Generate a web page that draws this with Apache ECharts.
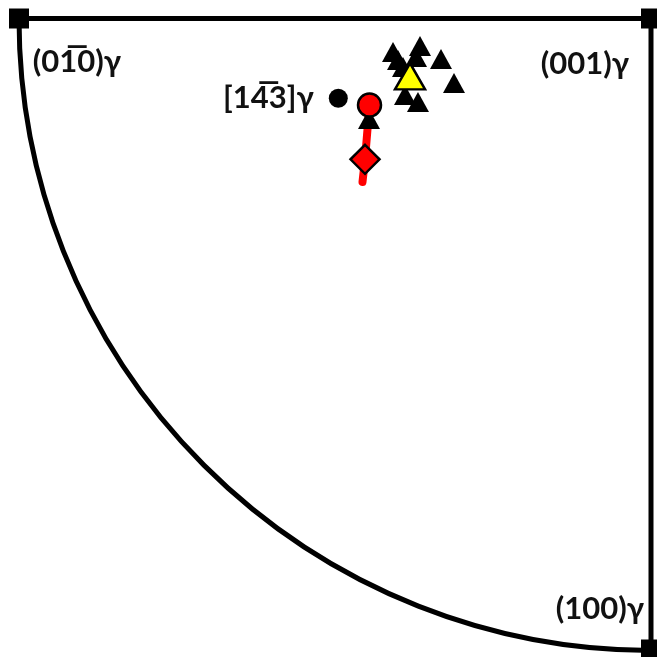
<!DOCTYPE html>
<html>
<head>
<meta charset="utf-8">
<script src="https://cdn.jsdelivr.net/npm/echarts@6/dist/echarts.min.js"></script>
<style>
  html, body { margin: 0; padding: 0; background: #fff; }
  #chart { width: 657px; height: 657px; }
</style>
</head>
<body>
<div id="chart"></div>
<script>
// Standard stereographic triangle: (001) pole at the origin, unit radius.
const poleNames = ['(01\u03050)\u03b3', '(001)\u03b3', '(100)\u03b3'];
const polePoints = [[-1, 0], [0, 0], [0, -1]];

// Reference direction
const refName = '[14\u03053]\u03b3';
const refPoint = [-0.4948, -0.1265];

// Measured variant orientations
const variantPoints = [
  [-0.4082, -0.0531], [-0.4003, -0.0658], [-0.3924, -0.0769],
  [-0.3655, -0.0436], [-0.3718, -0.0610], [-0.3323, -0.0642],
  [-0.3117, -0.1022], [-0.3892, -0.1212], [-0.3687, -0.1323],
  [-0.4462, -0.1593]
];
const meanVariant = [-0.3813, -0.0916];

// Rotation path: start, intermediate, end
const pathPoints = [[-0.4454, -0.1371], [-0.4525, -0.2231], [-0.4565, -0.2591]];
const startPoint = pathPoints[0];
const midPoint = pathPoints[1];

const FONT = 'Lato';
const labelOffsets = [[58, 43], [-66, 45], [-51, -41]];
const labelStyle = { fontFamily: FONT, fontWeight: 'bold', fontSize: 31, color: '#111' };

const chart = echarts.init(document.getElementById('chart'), null, { renderer: 'canvas' });

chart.setOption({
  animation: false,
  backgroundColor: '#ffffff',
  grid: { left: 19, right: 6, top: 18.5, bottom: 7.5 },
  xAxis: { type: 'value', min: -1, max: 0, show: false },
  yAxis: { type: 'value', min: -1, max: 0, show: false },
  series: [
    {
      // great-circle boundary of the triangle
      type: 'custom',
      silent: true,
      z: 1,
      data: [polePoints[1]],
      renderItem: function (params, api) {
        const c = api.coord([api.value(0), api.value(1)]);
        const r = api.size([1, 1])[0];
        return {
          type: 'arc',
          shape: { cx: c[0], cy: c[1], r: r, startAngle: Math.PI / 2, endAngle: Math.PI, clockwise: true },
          style: { stroke: '#000', lineWidth: 5, fill: null }
        };
      }
    },
    {
      type: 'line',
      z: 1,
      symbol: 'none',
      data: polePoints,
      lineStyle: { color: '#000', width: 5, opacity: 1 }
    },
    {
      type: 'scatter',
      z: 3,
      symbol: 'rect',
      symbolSize: 20,
      itemStyle: { color: '#000', opacity: 1 },
      data: polePoints.map((p, i) => ({
        value: p,
        name: poleNames[i],
        label: Object.assign({ show: true, position: 'inside', offset: labelOffsets[i], formatter: '{b}' }, labelStyle)
      }))
    },
    {
      type: 'line',
      z: 2,
      symbol: 'none',
      data: pathPoints,
      lineStyle: { color: '#ff0000', width: 8, cap: 'round', join: 'round', opacity: 1 }
    },
    {
      type: 'scatter',
      z: 3,
      symbol: 'triangle',
      symbolSize: [22, 20],
      itemStyle: { color: '#000', opacity: 1 },
      data: variantPoints
    },
    {
      type: 'scatter',
      z: 4,
      symbol: 'triangle',
      symbolSize: [30, 26],
      itemStyle: { color: '#ffff00', borderColor: '#000', borderWidth: 2.5, opacity: 1 },
      data: [meanVariant]
    },
    {
      type: 'scatter',
      z: 4,
      symbol: 'circle',
      symbolSize: 19,
      itemStyle: { color: '#000', opacity: 1 },
      data: [{
        value: refPoint,
        name: refName,
        label: Object.assign({ show: true, position: 'left', distance: 15, formatter: '{b}' }, labelStyle)
      }]
    },
    {
      type: 'scatter',
      z: 5,
      symbol: 'circle',
      symbolSize: 23,
      itemStyle: { color: '#ff0000', borderColor: '#000', borderWidth: 2.5, opacity: 1 },
      data: [startPoint]
    },
    {
      type: 'scatter',
      z: 5,
      symbol: 'diamond',
      symbolSize: 29,
      itemStyle: { color: '#ff0000', borderColor: '#000', borderWidth: 2.5, opacity: 1 },
      data: [midPoint]
    }
  ]
});
</script>
</body>
</html>
